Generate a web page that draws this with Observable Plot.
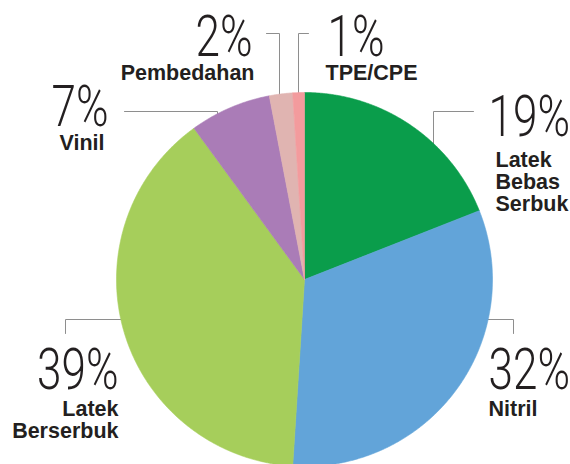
<!DOCTYPE html>
<html><head><meta charset="utf-8">
<script src="https://cdn.jsdelivr.net/npm/d3@7"></script>
<script src="https://cdn.jsdelivr.net/npm/@observablehq/plot@0.6"></script>
<style>body{margin:0;background:#fff} #chart svg{display:block}</style>
</head><body><div id="chart"></div>
<script>
// ---- data ----
const categories = ["Latek Bebas Serbuk","Nitril","Latek Berserbuk","Vinil","Pembedahan","TPE/CPE"];
const shares = [19, 32, 39, 7, 2, 1];
const pctLabels = ["19%","32%","39%","7%","2%","1%"];
const nameLabels = ["Latek\nBebas\nSerbuk","Nitril","Latek\nBerserbuk","Vinil","Pembedahan","TPE/CPE"];
const colors = ["#0a9d4b","#62a4d9","#a6ce5b","#aa7cb7","#e0b4b1","#f39b9d"];

// ---- layout (pixels) ----
const W = 570, H = 464, CX = 304, CY = 279, RX = 188, RY = 187;
const toX = px => (px - CX) / RX, toY = py => (CY - py) / RY;
const PCT_FS = 58, NAME_FS = 21.5, PCT_SCALE = 0.76;
const layout = [
  {pct:[488,135,"start"], name:[495,166,"start"], leader:[[473,111],[433,111],[433,160]]},
  {pct:[488,388,"start"], name:[488,415,"start"], leader:[[513,333],[513,319],[480,319]]},
  {pct:[118,388,"end"],   name:[118,415,"end"],   leader:[[65,333],[65,319],[130,319]]},
  {pct:[108,125,"end"],   name:[104,149,"end"],   leader:[[124,111],[217,111],[217,125]]},
  {pct:[252,55,"end"],    name:[254,79,"end"],    leader:[[266,33],[279,33],[279,100]]},
  {pct:[327,55,"start"],  name:[325,79,"start"],  leader:[[308,33],[298,33],[298,100]]}
];

// ---- pie geometry in unit coordinates ----
const arcs = d3.pie().sort(null).value(d => d)(shares);
const slicePts = [];
arcs.forEach((p, i) => {
  const k = categories[i];
  slicePts.push({k, x: 0, y: 0});
  const n = Math.max(4, Math.ceil((p.endAngle - p.startAngle) / 0.005));
  for (let j = 0; j <= n; j++) {
    const a = p.startAngle + (p.endAngle - p.startAngle) * j / n;
    slicePts.push({k, x: Math.sin(a), y: Math.cos(a)});
  }
  slicePts.push({k, x: 0, y: 0});
});

const leaderPts = [];
layout.forEach((l, i) => l.leader.forEach(([px, py]) => leaderPts.push({k: categories[i], x: toX(px), y: toY(py)})));

function labelRows(field, texts, fs) {
  return layout.map((l, i) => ({
    text: texts[i], anchor: l[field][2],
    x: toX(l[field][0]), y: toY(l[field][1] - 0.71 * fs)
  }));
}
const pctRows = labelRows("pct", pctLabels, PCT_FS);
const nameRows = labelRows("name", nameLabels, NAME_FS);

const pctStyle = {fontFamily: "Roboto", fontWeight: 300, fontSize: PCT_FS, fill: "#231f20", lineAnchor: "top"};
const nameStyle = {fontFamily: "Liberation Sans, Arial, sans-serif", fontWeight: "bold", fontSize: NAME_FS, fill: "#231f20", lineAnchor: "top", lineHeight: 1.02};

const chart = Plot.plot({
  width: W, height: H, margin: 0,
  x: {domain: [toX(0), toX(W)], axis: null},
  y: {domain: [toY(H), toY(0)], axis: null},
  color: {domain: categories, range: colors},
  style: {background: "#fff"},
  marks: [
    Plot.line(leaderPts, {x: "x", y: "y", z: "k", stroke: "#8e8e8e", strokeWidth: 1}),
    Plot.line(slicePts, {x: "x", y: "y", z: "k", fill: "k", stroke: "k", strokeWidth: 0.6, strokeLinejoin: "round", curve: "linear"}),
    Plot.text(pctRows.filter(d => d.anchor === "start"), {x: "x", y: "y", text: "text", textAnchor: "start", ...pctStyle}),
    Plot.text(pctRows.filter(d => d.anchor === "end"), {x: "x", y: "y", text: "text", textAnchor: "end", ...pctStyle}),
    Plot.text(nameRows.filter(d => d.anchor === "start"), {x: "x", y: "y", text: "text", textAnchor: "start", ...nameStyle}),
    Plot.text(nameRows.filter(d => d.anchor === "end"), {x: "x", y: "y", text: "text", textAnchor: "end", ...nameStyle})
  ]
});
document.getElementById("chart").appendChild(chart);

// condense the big percentage figures horizontally (scale about each text's anchor point)
chart.querySelectorAll("text").forEach(t => {
  if (!pctLabels.includes(t.textContent)) return;
  const tr = t.getAttribute("transform");
  if (tr && tr.includes("translate")) {
    t.setAttribute("transform", tr + ` scale(${PCT_SCALE},1)`);
  } else {
    const x = +t.getAttribute("x") || 0;
    t.setAttribute("transform", `${tr || ""} translate(${x},0) scale(${PCT_SCALE},1) translate(${-x},0)`);
  }
});
</script>
</body></html>
